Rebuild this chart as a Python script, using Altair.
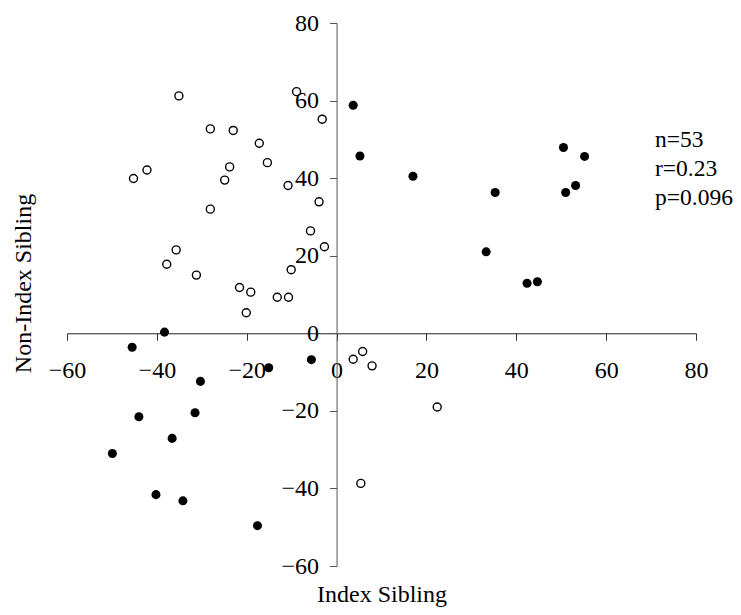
import altair as alt
import pandas as pd

# Open circles (one group)
open_x = [-35.1, -8.9, -3.2, -28.1, -23.0, -17.2, -15.4, -42.2, -45.2, -23.8,
          -24.9, -10.8, -3.9, -28.1, -5.8, -2.7, -35.7, -37.8, -31.2, -10.1,
          -21.6, -19.1, -13.2, -10.7, -20.1, 3.7, 5.8, 7.9, 22.4, 5.4]
open_y = [61.2, 62.3, 55.2, 52.7, 52.3, 49.0, 44.0, 42.1, 39.9, 42.9,
          39.5, 38.1, 33.9, 32.0, 26.4, 22.3, 21.5, 17.8, 15.0, 16.4,
          11.8, 10.6, 9.3, 9.3, 5.3, -6.7, -4.7, -8.4, -19.0, -38.7]

# Filled circles (other group)
filled_x = [3.7, 5.2, 17.0, 35.3, 50.5, 55.2, 53.2, 51.0, 33.3, 42.4, 44.7,
            -38.3, -45.5, -5.6, -15.1, -30.3, -44.0, -31.5, -36.6, -49.9,
            -40.2, -34.2, -17.6]
filled_y = [58.8, 45.7, 40.5, 36.3, 47.9, 45.6, 38.1, 36.3, 21.0, 12.9, 13.3,
            0.3, -3.6, -6.8, -8.9, -12.4, -21.5, -20.5, -27.1, -31.0,
            -41.6, -43.2, -49.6]

ticks = [-60, -40, -20, 0, 20, 40, 60, 80]
stats_text = ["n=53", "r=0.23", "p=0.096"]

W, H = 629, 543
XMIN, XMAX = -60, 80
YMIN, YMAX = -60, 80
FONT = "'Liberation Serif', 'Times New Roman', 'DejaVu Serif', serif"
FS = 24

# axis offsets so that the axes cross at the origin
x_axis_offset = -(H * (0 - YMIN) / (YMAX - YMIN))
y_axis_offset = -(W * (0 - XMIN) / (XMAX - XMIN))

df_open = pd.DataFrame({"x": open_x, "y": open_y})
df_filled = pd.DataFrame({"x": filled_x, "y": filled_y})

xscale = alt.Scale(domain=[XMIN, XMAX], nice=False, zero=False)
yscale = alt.Scale(domain=[YMIN, YMAX], nice=False, zero=False)

xaxis = alt.Axis(
    values=ticks, grid=False, offset=x_axis_offset, title="Index Sibling",
    titleY=268, titleBaseline="alphabetic", titleFont=FONT, titleFontSize=FS,
    titleFontWeight="normal", titleColor="black",
    labelFont=FONT, labelFontSize=FS, labelColor="black", labelPadding=18,
    tickSize=7, tickColor="#333", domainColor="#222", labelFlush=False,
    labelOverlap=False,
)
yaxis = alt.Axis(
    values=ticks, grid=False, offset=y_axis_offset, title="Non-Index Sibling",
    titleX=-306, titleY=260, titleAngle=-90, titleAlign="center",
    titleBaseline="alphabetic", titleFont=FONT, titleFontSize=FS,
    titleFontWeight="normal", titleColor="black",
    labelFont=FONT, labelFontSize=FS, labelColor="black", labelPadding=11,
    tickSize=7, tickColor="#555", domainColor="#555", labelFlush=False,
    labelOverlap=False,
)

open_layer = alt.Chart(df_open).mark_point(
    shape="circle", filled=False, stroke="black", strokeWidth=1.4, size=64, opacity=1
).encode(
    x=alt.X("x:Q", scale=xscale, axis=xaxis),
    y=alt.Y("y:Q", scale=yscale, axis=yaxis),
)

filled_layer = alt.Chart(df_filled).mark_circle(
    size=82, color="black", opacity=1
).encode(
    x=alt.X("x:Q", scale=xscale),
    y=alt.Y("y:Q", scale=yscale),
)

stats = alt.Chart(pd.DataFrame({"t": ["\n".join(stats_text)]})).mark_text(
    align="left", baseline="alphabetic", font=FONT, fontSize=23.5,
    lineBreak="\n", lineHeight=29, color="black"
).encode(
    text="t:N",
    x=alt.value(588),
    y=alt.value(124),
)

chart = alt.layer(open_layer, filled_layer, stats).properties(
    width=W, height=H,
    background="white",
    autosize=alt.AutoSizeParams(type="none"),
    padding={"left": 59, "top": 15, "right": 37, "bottom": 41},
).configure_view(strokeWidth=0, stroke="transparent")

chart.save("out.html", embed_options={"renderer": "svg", "actions": False})
